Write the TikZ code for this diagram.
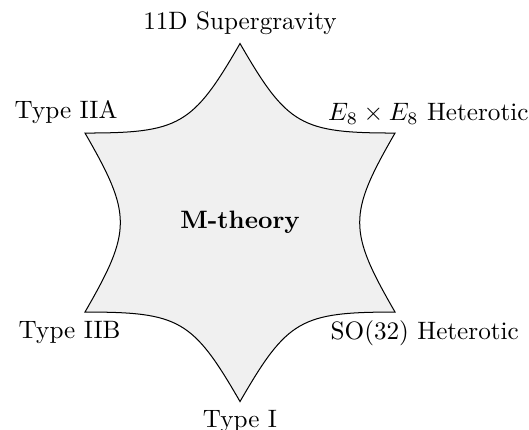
\documentclass[tikz,border=0pt]{standalone}
\usepackage{amsmath}
\usepackage{tikz}
\usetikzlibrary{positioning}
\definecolor{cFill}{RGB}{240,240,240}
\tikzset{
	starshape/.style={draw=black, fill=cFill},
	side/.style={bend right=30, looseness=1.35},
}

\begin{document}
\begin{tikzpicture}
	\useasboundingbox (-3.352,-2.884) rectangle (4.036,3.108);
	% corners of the star
	\coordinate (top) at (90:2.5);
	\coordinate (ur) at (30:2.5);
	\coordinate (lr) at (-30:2.5);
	\coordinate (bot) at (-90:2.5);
	\coordinate (ll) at (-150:2.5);
	\coordinate (ul) at (150:2.5);
	% star with concave sides
	\draw[starshape] (top) to[side] (ur) to[side] (lr) to[side] (bot) to[side] (ll) to[side] (ul) to[side] cycle;
	\node (mth) at (0,0) {\textbf{M-theory}};
	% limits
	\node[above] (sugra) at (top) {11D Supergravity};
	\node[below] (typeI) at (bot) {Type I};
	\node[above] (iia) at (-2.43,1.25) {Type IIA};
	\node[above] (hetE) at (2.63,1.25) {$E_8 \times E_8$ Heterotic};
	\node[below] (iib) at (-2.38,-1.25) {Type IIB};
	\node[below] (hetO) at (2.58,-1.25) {SO(32) Heterotic};
\end{tikzpicture}
\end{document}
